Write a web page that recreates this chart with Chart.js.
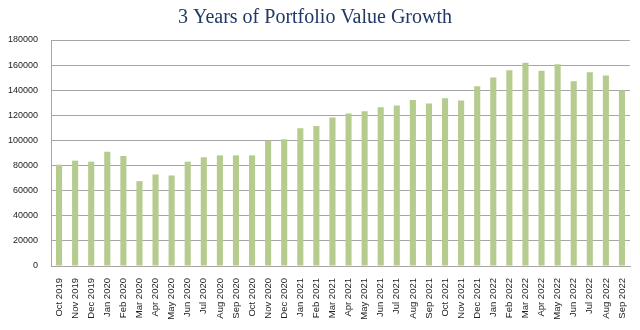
<!DOCTYPE html>
<html>
  <head>
    <script src="https://cdn.jsdelivr.net/npm/chart.js@4/dist/chart.umd.min.js"></script>
    <style>
      html, body { margin: 0; padding: 0; background: #fff; }
      #wrap { width: 640px; height: 330px; }
    </style>
  </head>

  <body>
    <div id="wrap">
      <canvas id="canvas"></canvas>
    </div>
    <script>
      // monthly portfolio value, Oct 2019 - Sep 2022
      const months = [
        'Oct 2019', 'Nov 2019', 'Dec 2019',
        'Jan 2020', 'Feb 2020', 'Mar 2020', 'Apr 2020', 'May 2020', 'Jun 2020',
        'Jul 2020', 'Aug 2020', 'Sep 2020', 'Oct 2020', 'Nov 2020', 'Dec 2020',
        'Jan 2021', 'Feb 2021', 'Mar 2021', 'Apr 2021', 'May 2021', 'Jun 2021',
        'Jul 2021', 'Aug 2021', 'Sep 2021', 'Oct 2021', 'Nov 2021', 'Dec 2021',
        'Jan 2022', 'Feb 2022', 'Mar 2022', 'Apr 2022', 'May 2022', 'Jun 2022',
        'Jul 2022', 'Aug 2022', 'Sep 2022',
      ];
      const portfolioValue = [
        80700, 83900, 83100,
        91000, 87600, 67600, 72900, 72100, 83100,
        86600, 88100, 88100, 88100, 99800, 100900,
        109700, 111600, 118200, 121400, 123300, 126500,
        127800, 132300, 129400, 133700, 131800, 143200,
        150200, 156000, 161900, 155500, 160700, 147200,
        154400, 151800, 139800,
      ];
      const yTicks = [0, 20000, 40000, 60000, 80000, 100000, 120000, 140000, 160000, 180000];

      const gridColor = '#a6a6a6';

      new Chart(document.getElementById('canvas').getContext('2d'), {
        type: 'bar',
        data: {
          labels: months,
          datasets: [
            {
              label: 'Portfolio value',
              data: portfolioValue,
              backgroundColor: '#b5cc8e',
              categoryPercentage: 1,
              barPercentage: 0.38,
            },
          ],
        },
        options: {
          responsive: true,
          maintainAspectRatio: false,
          animation: false,
          layout: { padding: { left: 0, right: 10, top: 0, bottom: 0 } },
          plugins: {
            legend: { display: false },
            tooltip: { enabled: false },
            title: {
              display: true,
              text: '3 Years of Portfolio Value Growth',
              color: '#1f3864',
              font: { family: 'Liberation Serif', size: 20, weight: 'normal' },
              padding: { top: 6, bottom: 10 },
            },
          },
          scales: {
            x: {
              grid: { display: false },
              border: { color: gridColor },
              ticks: {
                color: '#222',
                font: { family: 'Liberation Sans', size: 9.5 },
                minRotation: 90,
                maxRotation: 90,
                autoSkip: false,
                padding: 4,
              },
              afterFit: (scale) => { scale.height = 64; },
            },
            y: {
              min: 0,
              max: 180000,
              afterBuildTicks: (scale) => {
                scale.ticks = yTicks.map((v) => ({ value: v }));
              },
              grid: { color: gridColor, drawTicks: false },
              border: { color: gridColor },
              ticks: {
                color: '#222',
                font: { family: 'Liberation Sans', size: 9 },
                padding: 13,
                callback: (v) => String(v),
              },
              afterFit: (scale) => { scale.width = 51; },
            },
          },
        },
      });
    </script>
  </body>
</html>
